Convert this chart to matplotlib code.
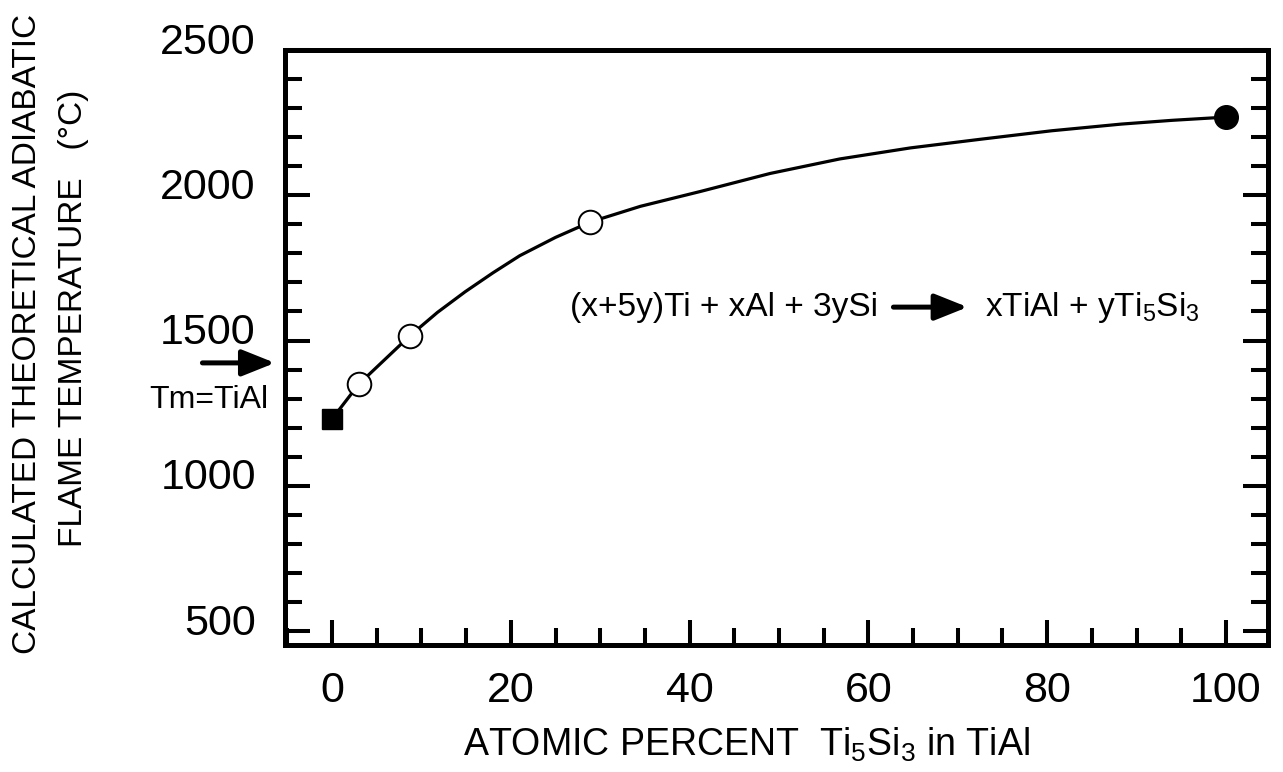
import matplotlib
matplotlib.use("Agg")
import matplotlib.pyplot as plt
from matplotlib.ticker import MultipleLocator
from matplotlib.transforms import ScaledTranslation

# ---------------- data ----------------
curve_x = [0.0, 3.0, 8.7, 11.8, 14.9, 18.0, 21.0, 25.0, 28.9, 34.5, 41.2, 49.0,
           56.8, 64.7, 72.6, 80.5, 88.3, 94.0, 100.0]
curve_y = [1230, 1350, 1516, 1597, 1668, 1733, 1792, 1855, 1908, 1962, 2013, 2075,
           2125, 2163, 2193, 2222, 2245, 2258, 2269]

start_x = [0.0]            # filled square (pure TiAl)
start_y = [1230]
open_x = [3.0, 8.7, 28.9]  # open circles
open_y = [1350, 1516, 1908]
end_x = [100.0]            # filled circle (pure Ti5Si3)
end_y = [2269]

x_ticks = [0, 20, 40, 60, 80, 100]
y_ticks = [500, 1000, 1500, 2000, 2500]
tm_temp = 1423             # arrow marking Tm of TiAl

# ---------------- style ----------------
plt.rcParams['font.family'] = ['Liberation Sans', 'DejaVu Sans']
plt.rcParams['mathtext.fontset'] = 'custom'
plt.rcParams['mathtext.rm'] = 'Liberation Sans'
plt.rcParams['mathtext.it'] = 'Liberation Sans'
plt.rcParams['mathtext.default'] = 'regular'

fig = plt.figure(figsize=(12.83, 7.72), dpi=100)
fig.patch.set_facecolor('white')
ax = fig.add_axes([285/1283, 1 - 645/772, (1268 - 285)/1283, (645 - 50)/772])

ax.plot(curve_x, curve_y, color='black', lw=2.3, zorder=2,
        solid_capstyle='round', solid_joinstyle='round')
ax.plot(start_x, start_y, 's', color='black', ms=14, zorder=3)
ax.plot(open_x, open_y, 'o', mfc='white', mec='black', mew=1.4, ms=17, zorder=3)
ax.plot(end_x, end_y, 'o', color='black', ms=17, zorder=3)

ax.set_xlim(-5.26, 104.7)
ax.set_ylim(452, 2500)

for s in ax.spines.values():
    s.set_linewidth(3.6)

ax.xaxis.set_major_locator(MultipleLocator(20))
ax.xaxis.set_minor_locator(MultipleLocator(5))
ax.yaxis.set_major_locator(MultipleLocator(500))
ax.yaxis.set_minor_locator(MultipleLocator(100))
ax.set_xticks(x_ticks)
ax.set_yticks(y_ticks)

ax.tick_params(which='both', direction='in', top=False, right=True, width=2.9)
ax.tick_params(which='major', length=18)
ax.tick_params(which='minor', length=12)
ax.tick_params(axis='x', which='major', labelsize=31, pad=19)
ax.tick_params(axis='y', which='major', labelsize=31, pad=21)

offset = ScaledTranslation(0, 12/100, fig.dpi_scale_trans)
for lab in ax.get_yticklabels():
    lab.set_transform(lab.get_transform() + offset)

ax.set_xlabel(r'ATOMIC PERCENT  Ti$_5$Si$_3$ in TiAl', fontsize=27)
ax.xaxis.label.set_va('center')
ax.xaxis.set_label_coords((746 - 285)/983, -(745 - 645)/595)

# two-line y label
fig.text(28/1283, 1 - 334/772, 'CALCULATED THEORETICAL ADIABATIC', rotation=90,
         ha='center', va='center', fontsize=24)
fig.text(74/1283, 1 - 318/772, 'FLAME TEMPERATURE   (°C)', rotation=90,
         ha='center', va='center', fontsize=24)

# Tm marker arrow
ax.annotate('', xy=(-0.0102, tm_temp), xycoords=('axes fraction', 'data'),
            xytext=(-0.084, tm_temp), textcoords=('axes fraction', 'data'),
            arrowprops=dict(arrowstyle='-|>,head_length=1.0,head_width=0.4',
                            lw=3.6, color='black', mutation_scale=20,
                            shrinkA=0, shrinkB=0), annotation_clip=False)
ax.text(-0.017, 1295, 'Tm=TiAl', transform=ax.get_yaxis_transform(),
        ha='right', va='center', fontsize=23, clip_on=False)

# reaction equation
eq_y = 1615
ax.text(61.1, eq_y, '(x+5y)Ti + xAl + 3ySi', ha='right', va='center', fontsize=24)
ax.annotate('', xy=(71.1, eq_y), xytext=(62.8, eq_y),
            arrowprops=dict(arrowstyle='-|>,head_length=1.0,head_width=0.4',
                            lw=3.6, color='black', mutation_scale=20,
                            shrinkA=0, shrinkB=0))
ax.text(73.0, eq_y, r'xTiAl + yTi$_5$Si$_3$', ha='left', va='center', fontsize=24)

fig.savefig('out.png', dpi=100, facecolor='white')
